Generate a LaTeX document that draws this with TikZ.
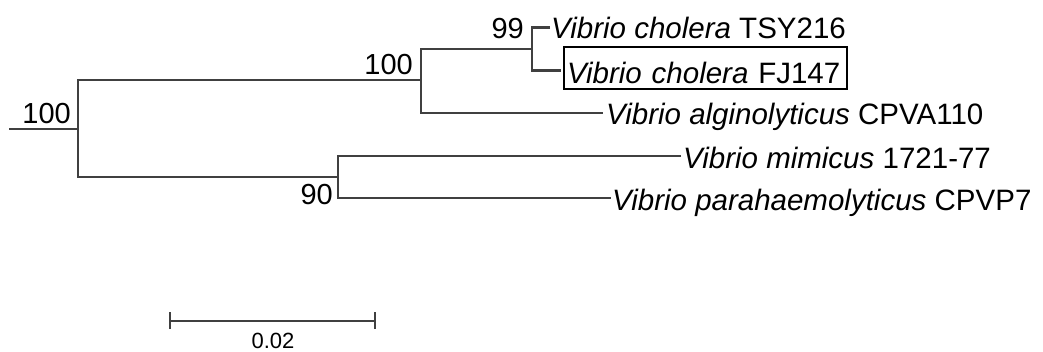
\documentclass[tikz,border=0pt]{standalone}
\usepackage{fontspec}
\setmainfont{Liberation Sans}
\begin{document}
\begin{tikzpicture}[x=1pt,y=-1pt,
  branch/.style={draw=black!75,line width=2.4pt,line join=miter},
  taxon/.style={anchor=base west,inner sep=0pt,font=\fontsize{29.5}{33}\selectfont},
  boot/.style={anchor=base east,inner sep=0pt,font=\fontsize{29}{33}\selectfont},
  highlight/.style={draw=black,line width=2pt,inner xsep=3pt,inner ysep=0pt,
    text width=277pt,align=left,text height=37pt,text depth=5.8pt}]
\useasboundingbox (0,0) rectangle (1043,351);

% internal nodes of the tree
\coordinate (base) at (9,129);
\coordinate (root) at (78,129);
\coordinate (nA) at (421,80);
\coordinate (nB) at (532,49);
\coordinate (nC) at (338,177);

% branch tips
\coordinate (t1) at (550,27.5);
\coordinate (t2) at (561,70.5);
\coordinate (t3) at (603,112.7);
\coordinate (t4) at (681,156);
\coordinate (t5) at (611,198);

% taxon labels
\node[taxon] (L1) at (551,38.5) {\textit{Vibrio cholera} TSY216};
\node[taxon,highlight] (L2) at (563,83.5) {\textit{Vibrio cholera} FJ147};
\node[taxon] (L3) at (606,124.5) {\textit{Vibrio alginolyticus} CPVA110};
\node[taxon] (L4) at (683,168) {\textit{Vibrio mimicus} 1721-77};
\node[taxon] (L5) at (612,210) {\textit{Vibrio parahaemolyticus} CPVP7};

% branches
\draw[branch] (base) -- (root);
\draw[branch] (nA) -| (root) |- (nC);
\draw[branch] (nB) -| (nA) |- (t3);
\draw[branch] (t1) -| (nB) |- (t2);
\draw[branch] (t4) -| (nC) |- (t5);

% bootstrap values
\node[boot] (b0) at (71,123) {100};
\node[boot] (b1) at (413,74) {100};
\node[boot] (b2) at (524,38) {99};
\node[boot] (b3) at (333,204) {90};

% scale bar
\coordinate (s1) at (170,321);
\coordinate (s2) at (375,321);
\draw[branch] (s1) -- (s2);
\draw[branch] ([yshift=-8pt]s1) -- ([yshift=9pt]s1);
\draw[branch] ([yshift=-8pt]s2) -- ([yshift=9pt]s2);
\node[anchor=base,inner sep=0pt,font=\fontsize{22}{25}\selectfont] (sl) at (273,348) {0.02};
\end{tikzpicture}
\end{document}
